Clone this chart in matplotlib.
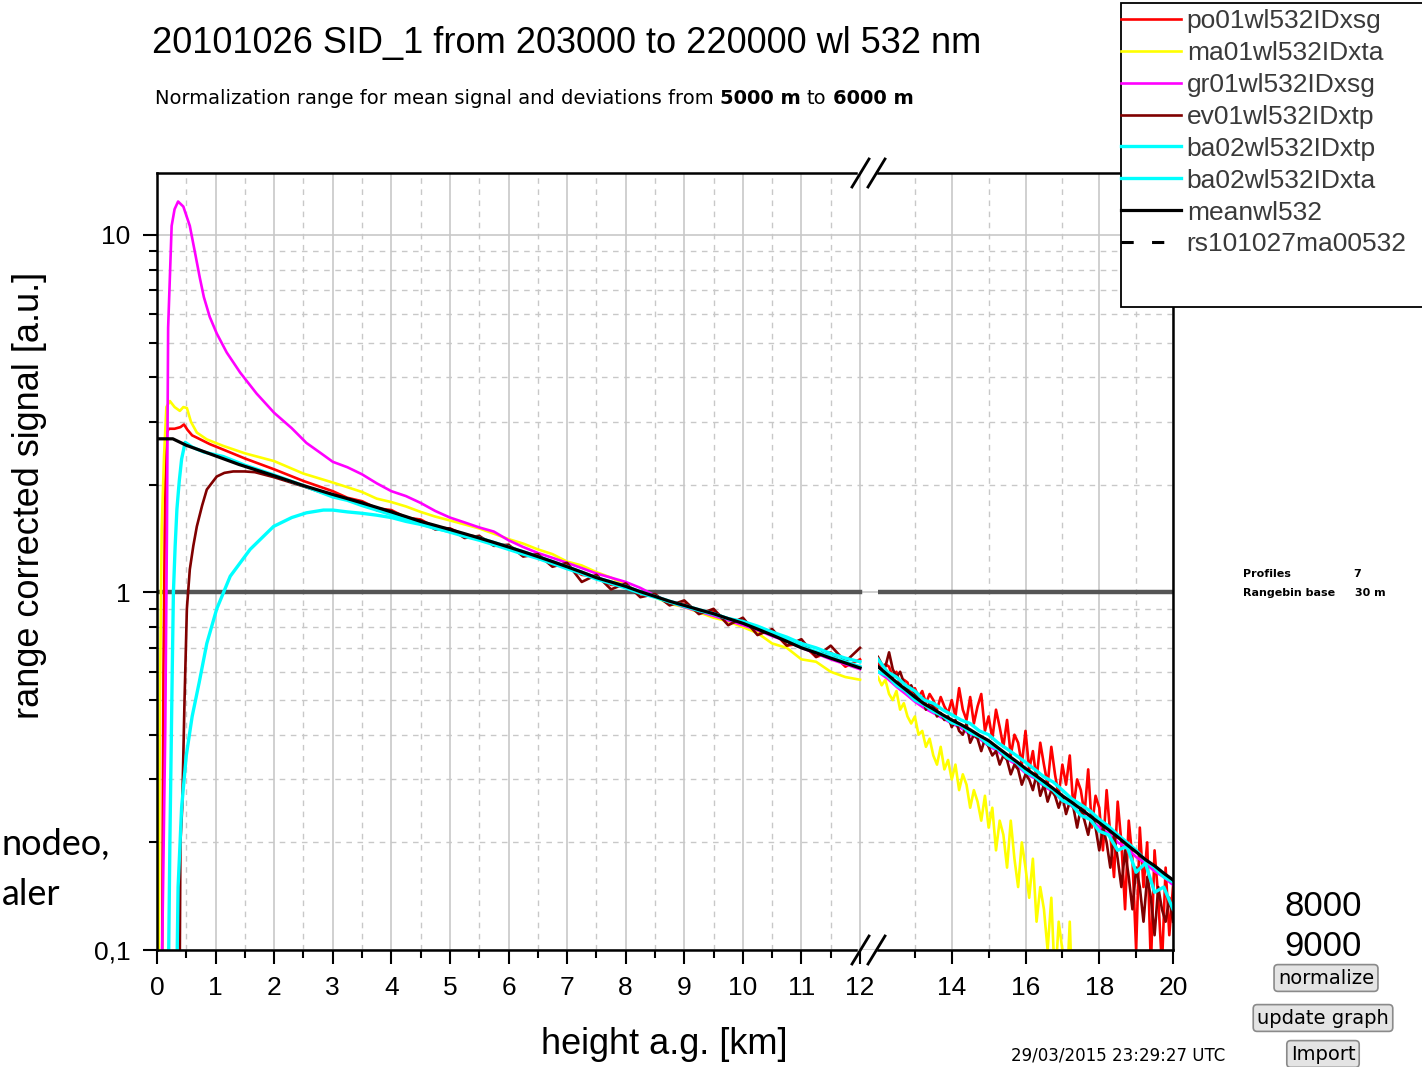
import numpy as np
import matplotlib
matplotlib.use("Agg")
import matplotlib.pyplot as plt
from matplotlib.lines import Line2D
from matplotlib.patches import Rectangle
from matplotlib.ticker import LogLocator, NullFormatter

plt.rcParams["font.family"] = ["Liberation Sans", "DejaVu Sans"]

W, H = 1422, 1067          # output size in pixels


def fx(px):
    return px / W


def fy(py):
    return 1 - py / H


# --- data (height in km, range corrected signal in a.u.) ---
LGRID = np.linspace(3.0, 12.0, 37)       # left panel sampling, 0.25 km
RGRID_F = np.linspace(12.0, 20.0, 81)    # right panel fine sampling, 0.1 km
RGRID_C = np.linspace(12.0, 20.0, 33)    # right panel coarse sampling, 0.25 km

LABELS = ["po01wl532IDxsg", "ma01wl532IDxta", "gr01wl532IDxsg", "ev01wl532IDxtp",
          "ba02wl532IDxtp", "ba02wl532IDxta", "meanwl532", "rs101027ma00532"]
COLORS = ["#ff0000", "#ffff00", "#ff00ff", "#800000", "#00ffff", "#00ffff", "#000000", "#000000"]

# po01 (red)
RED_KM0 = [0.08, 0.11, 0.14, 0.17, 0.20, 0.30, 0.40, 0.46, 0.52, 0.60, 0.68, 0.90, 1.13, 1.50, 2.00, 2.50]
RED_V0 = [0.05, 0.60, 2.00, 2.80, 2.87, 2.87, 2.90, 2.95, 2.85, 2.75, 2.71, 2.60, 2.51, 2.37, 2.21, 2.05]
RED_VL = [1.92, 1.84, 1.80, 1.72, 1.70, 1.62, 1.60, 1.52, 1.51, 1.45, 1.43, 1.37, 1.35, 1.29, 1.27, 1.20,
          1.19, 1.12, 1.11, 1.05, 1.05, 0.99, 0.98, 0.93, 0.93, 0.88, 0.89, 0.83, 0.84, 0.77, 0.78, 0.71,
          0.72, 0.66, 0.68, 0.62, 0.65]
RED_VR = [0.64, 0.61, 0.63, 0.62, 0.58, 0.60, 0.55, 0.57, 0.56, 0.52,
          0.54, 0.51, 0.53, 0.49, 0.52, 0.50, 0.47, 0.51, 0.48, 0.46,
          0.50, 0.45, 0.54, 0.47, 0.44, 0.51, 0.43, 0.48, 0.52, 0.41,
          0.45, 0.39, 0.47, 0.42, 0.37, 0.44, 0.35, 0.40, 0.38, 0.33,
          0.41, 0.32, 0.36, 0.30, 0.38, 0.33, 0.29, 0.37, 0.31, 0.27,
          0.33, 0.29, 0.35, 0.25, 0.30, 0.28, 0.24, 0.32, 0.22, 0.27,
          0.25, 0.19, 0.28, 0.21, 0.16, 0.26, 0.20, 0.13, 0.23, 0.18,
          0.10, 0.22, 0.15, 0.20, 0.09, 0.19, 0.14, 0.09, 0.17, 0.11, 0.15]

# ma01 (yellow)
YEL_KM0 = [0.02, 0.05, 0.08, 0.12, 0.16, 0.22, 0.30, 0.39, 0.45, 0.51, 0.58, 0.68, 0.85, 1.13, 1.50, 2.00, 2.50]
YEL_V0 = [0.05, 0.50, 1.50, 2.40, 3.30, 3.43, 3.30, 3.22, 3.30, 3.28, 3.00, 2.80, 2.68, 2.57, 2.45, 2.33, 2.15]
YEL_VL = [2.03, 1.97, 1.91, 1.83, 1.79, 1.74, 1.68, 1.63, 1.59, 1.55, 1.51, 1.46, 1.41, 1.37, 1.32, 1.28,
          1.22, 1.19, 1.14, 1.10, 1.05, 1.00, 0.97, 0.93, 0.91, 0.88, 0.85, 0.83, 0.80, 0.77, 0.72, 0.70,
          0.65, 0.64, 0.60, 0.58, 0.57]
YEL_VR = [0.58, 0.55, 0.57, 0.52, 0.50, 0.53, 0.47, 0.49, 0.45, 0.43,
          0.45, 0.40, 0.41, 0.37, 0.39, 0.35, 0.33, 0.37, 0.32, 0.34,
          0.30, 0.33, 0.28, 0.31, 0.29, 0.25, 0.28, 0.26, 0.23, 0.27,
          0.22, 0.25, 0.19, 0.23, 0.21, 0.17, 0.23, 0.18, 0.15, 0.20,
          0.17, 0.14, 0.18, 0.12, 0.15, 0.13, 0.10, 0.14, 0.08, 0.12,
          0.10, 0.07, 0.12, 0.06, 0.09, 0.07, 0.05, 0.08]

# gr01 (magenta)
MAG_KM0 = [0.08, 0.14, 0.17, 0.19, 0.25, 0.30, 0.36, 0.45, 0.56, 0.65, 0.73, 0.80, 0.90, 1.02, 1.19, 1.42,
           1.70, 2.00, 2.30, 2.55, 2.80]
MAG_V0 = [0.08, 0.40, 1.50, 5.50, 10.6, 11.8, 12.4, 12.0, 10.6, 8.90, 7.60, 6.70, 5.90, 5.30, 4.69, 4.12,
          3.60, 3.18, 2.88, 2.62, 2.45]
MAG_VL = [2.32, 2.24, 2.14, 2.02, 1.92, 1.86, 1.78, 1.69, 1.62, 1.57, 1.52, 1.48, 1.40, 1.34, 1.29, 1.25,
          1.21, 1.17, 1.13, 1.10, 1.07, 1.03, 0.98, 0.94, 0.91, 0.885, 0.86, 0.835, 0.81, 0.785, 0.755, 0.73,
          0.70, 0.675, 0.65, 0.63, 0.61]
MAG_VR = [0.60, 0.575, 0.545, 0.52, 0.495, 0.475, 0.46, 0.445, 0.43, 0.418, 0.40, 0.39, 0.372, 0.36, 0.342,
          0.33, 0.312, 0.302, 0.287, 0.277, 0.262, 0.253, 0.24, 0.232, 0.22, 0.212, 0.20, 0.193, 0.182, 0.175,
          0.166, 0.16, 0.152]

# ev01 (dark red)
DRK_KM0 = [0.38, 0.40, 0.43, 0.47, 0.51, 0.56, 0.62, 0.68, 0.77, 0.85, 1.02, 1.15, 1.30, 1.50, 1.67, 2.00, 2.50]
DRK_V0 = [0.05, 0.20, 0.25, 0.50, 0.90, 1.16, 1.35, 1.53, 1.75, 1.94, 2.11, 2.16, 2.18, 2.18, 2.17, 2.10, 1.98]
DRK_VL = [1.86, 1.82, 1.79, 1.70, 1.69, 1.60, 1.59, 1.50, 1.51, 1.42, 1.44, 1.35, 1.36, 1.26, 1.28, 1.18,
          1.21, 1.07, 1.12, 1.02, 1.06, 0.97, 0.99, 0.92, 0.95, 0.87, 0.90, 0.81, 0.85, 0.76, 0.79, 0.71,
          0.74, 0.66, 0.71, 0.64, 0.70]
DRK_VR = [0.66, 0.63, 0.62, 0.68, 0.61, 0.58, 0.60, 0.56, 0.53, 0.55,
          0.52, 0.50, 0.51, 0.47, 0.49, 0.48, 0.45, 0.46, 0.44, 0.45,
          0.42, 0.44, 0.41, 0.40, 0.43, 0.38, 0.40, 0.39, 0.36, 0.39,
          0.37, 0.35, 0.36, 0.33, 0.35, 0.34, 0.31, 0.33, 0.32, 0.29,
          0.31, 0.30, 0.28, 0.31, 0.27, 0.29, 0.26, 0.28, 0.27, 0.25,
          0.27, 0.24, 0.26, 0.25, 0.22, 0.25, 0.23, 0.21, 0.24, 0.22,
          0.19, 0.22, 0.20, 0.17, 0.21, 0.18, 0.15, 0.19, 0.16, 0.13,
          0.17, 0.15, 0.12, 0.16, 0.14, 0.11, 0.15, 0.13, 0.12, 0.14, 0.12]

# ba02 xtp (cyan, fast rise)
CY1_KM0 = [0.18, 0.22, 0.26, 0.28, 0.31, 0.34, 0.38, 0.42, 0.48, 0.60, 0.80, 1.13, 1.50, 2.00, 2.50]
CY1_V0 = [0.05, 0.20, 0.60, 1.00, 1.35, 1.71, 2.05, 2.36, 2.63, 2.55, 2.47, 2.40, 2.27, 2.13, 1.99]
CY1_VL = [1.85, 1.81, 1.75, 1.70, 1.65, 1.60, 1.555, 1.515, 1.475, 1.435, 1.40, 1.36, 1.32, 1.28, 1.245,
          1.205, 1.165, 1.13, 1.09, 1.06, 1.03, 0.995, 0.97, 0.94, 0.915, 0.89, 0.87, 0.845, 0.83, 0.805,
          0.775, 0.75, 0.72, 0.70, 0.675, 0.655, 0.64]
CY1_VR = [0.65, 0.60, 0.58, 0.55, 0.53, 0.50, 0.49, 0.47, 0.455, 0.44, 0.43, 0.41, 0.40, 0.38, 0.365,
          0.35, 0.335, 0.32, 0.305, 0.295, 0.28, 0.265, 0.255, 0.245, 0.232, 0.222, 0.21, 0.20, 0.19,
          0.178, 0.17, 0.16, 0.155]

# ba02 xta (cyan, slow rise)
CY2_KM0 = [0.32, 0.36, 0.42, 0.50, 0.60, 0.72, 0.85, 1.02, 1.25, 1.59, 1.99, 2.30, 2.55, 2.84]
CY2_V0 = [0.05, 0.15, 0.25, 0.35, 0.45, 0.56, 0.72, 0.90, 1.11, 1.32, 1.53, 1.62, 1.67, 1.70]
CY2_VL = [1.70, 1.68, 1.665, 1.645, 1.62, 1.58, 1.55, 1.51, 1.48, 1.45, 1.42, 1.38, 1.34, 1.30, 1.26, 1.22,
          1.18, 1.14, 1.10, 1.07, 1.04, 1.005, 0.975, 0.945, 0.92, 0.895, 0.872, 0.845, 0.825, 0.795,
          0.765, 0.735, 0.705, 0.683, 0.66, 0.64, 0.62]
CY2_VR = [0.60, 0.585, 0.55, 0.53, 0.50, 0.485, 0.465, 0.452, 0.432, 0.425, 0.405, 0.395, 0.375, 0.365,
          0.345, 0.335, 0.315, 0.305, 0.29, 0.28, 0.262, 0.255, 0.238, 0.232, 0.215, 0.21, 0.19, 0.195,
          0.165, 0.175, 0.145, 0.15, 0.13]

# mean (black)
MEAN_KM0 = [0.00, 0.27, 0.50, 0.85, 1.40, 2.00, 2.50]
MEAN_V0 = [2.69, 2.69, 2.58, 2.46, 2.28, 2.12, 1.99]
MEAN_VL = [1.88, 1.83, 1.78, 1.73, 1.68, 1.63, 1.58, 1.54, 1.50, 1.46, 1.42, 1.38, 1.34, 1.30, 1.26, 1.22,
           1.18, 1.14, 1.10, 1.07, 1.04, 1.005, 0.975, 0.945, 0.92, 0.895, 0.872, 0.845, 0.82, 0.79, 0.76,
           0.73, 0.70, 0.678, 0.655, 0.635, 0.615]
MEAN_VR = [0.62, 0.59, 0.561, 0.535, 0.51, 0.488, 0.472, 0.455, 0.44, 0.427, 0.413, 0.398, 0.385, 0.368,
           0.352, 0.337, 0.322, 0.309, 0.296, 0.283, 0.27, 0.259, 0.248, 0.237, 0.227, 0.217, 0.207,
           0.197, 0.188, 0.179, 0.172, 0.164, 0.157]

# each entry: early km, early values, left grid values, right grid, right values, line width
SERIES = [
    (RED_KM0, RED_V0, RED_VL, RGRID_F, RED_VR, 1.9),
    (YEL_KM0, YEL_V0, YEL_VL, RGRID_F[:len(YEL_VR)], YEL_VR, 1.9),
    (MAG_KM0, MAG_V0, MAG_VL, RGRID_C, MAG_VR, 1.9),
    (DRK_KM0, DRK_V0, DRK_VL, RGRID_F, DRK_VR, 1.9),
    (CY1_KM0, CY1_V0, CY1_VL, RGRID_C, CY1_VR, 2.4),
    (CY2_KM0, CY2_V0, CY2_VL, RGRID_C, CY2_VR, 2.4),
    (MEAN_KM0, MEAN_V0, MEAN_VL, RGRID_C, MEAN_VR, 2.3),
]

# --- figure ---
fig = plt.figure(figsize=(W / 100, H / 100), dpi=100)
ax1 = fig.add_axes([fx(157), fy(950), (878 - 157) / W, (950 - 173) / H])
ax2 = fig.add_axes([fx(878), fy(950), (1173 - 878) / W, (950 - 173) / H])

handles = []
for (km0, v0, vl, rgrid, vr, lw), color in zip(SERIES, COLORS):
    xs = np.concatenate([km0, LGRID])
    ys = np.concatenate([v0, vl])
    line, = ax1.plot(xs, ys, color=color, lw=lw)
    ax2.plot(rgrid, vr, color=color, lw=lw)
    handles.append(line)
handles.append(Line2D([], [], color="black", lw=2.2, ls=(0, (4, 6))))

for ax in (ax1, ax2):
    ax.set_yscale("log")
    ax.set_ylim(0.1, 14.9)
    ax.yaxis.set_minor_locator(LogLocator(base=10, subs=np.arange(2, 10)))
    ax.yaxis.set_minor_formatter(NullFormatter())
    ax.set_axisbelow(True)
    ax.grid(which="major", color="#c8c8c8", lw=1.2, ls="-")
    ax.grid(which="minor", color="#c8c8c8", lw=1.0, ls=(0, (4, 4)))
    for s in ax.spines.values():
        s.set_linewidth(1.8)
    ax.tick_params(which="major", direction="out", length=10, width=1.5, labelsize=19, pad=9)
    ax.tick_params(which="minor", direction="out", length=5.5, width=1.5)

ax1.set_xlim(0, 12.307)
ax1.set_xticks(range(13))
ax1.set_xticks(np.arange(0.5, 12, 1.0), minor=True)
ax1.set_yticks([0.1, 1, 10])
ax1.set_yticklabels(["0,1", "1", "10"])
ax1.spines["right"].set_visible(False)
ax1.spines["top"].set_bounds(0, 11.93)
ax1.spines["bottom"].set_bounds(0, 11.93)
ax1.axhline(1, xmin=0, xmax=12 / 12.307, color="#555555", lw=3.2, zorder=1.5)

ax2.set_xlim(12, 20)
ax2.set_xticks([14, 16, 18, 20])
ax2.set_xticks([13, 15, 17, 19], minor=True)
ax2.spines["left"].set_visible(False)
ax2.tick_params(axis="y", which="both", left=False, labelleft=False)
ax2.axhline(1, color="#555555", lw=3.2, zorder=1.5)

# axis break marks
for yb in (173, 950):
    for x0 in (852, 868):
        fig.add_artist(Line2D([fx(x0), fx(x0 + 17)], [fy(yb + 14), fy(yb - 14)],
                              transform=fig.transFigure, color="black", lw=2))

# texts
fig.text(fx(152), fy(44), "20101026 SID_1 from 203000 to 220000 wl 532 nm", fontsize=26,
         ha="left", va="center")
sub = fig.text(fx(155), fy(98), "Normalization range for mean signal and deviations from",
               fontsize=14, family="DejaVu Sans", ha="left", va="center")
prev = sub
for part, bold in (("5000 m", True), ("to", False), ("6000 m", True)):
    prev = ax1.annotate(part, xy=(1, 0.5), xycoords=prev, xytext=(4.5, 0), textcoords="offset points",
                        fontsize=14, family="DejaVu Sans", fontweight="bold" if bold else "normal",
                        ha="left", va="center")
fig.text(fx(30), fy(495), "range corrected signal [a.u.]", fontsize=26, rotation=90,
         ha="center", va="center")
fig.text(fx(664), fy(1045), "height a.g. [km]", fontsize=26, ha="center", va="center")

fig.text(fx(1243), fy(574), "Profiles", fontsize=8, family="DejaVu Sans", fontweight="bold", va="center")
fig.text(fx(1353), fy(574), "7", fontsize=8, family="DejaVu Sans", fontweight="bold", va="center")
fig.text(fx(1243), fy(593), "Rangebin base", fontsize=8, family="DejaVu Sans", fontweight="bold", va="center")
fig.text(fx(1355), fy(593), "30 m", fontsize=8, family="DejaVu Sans", fontweight="bold", va="center")

fig.text(fx(1323), fy(907), "8000", fontsize=25, ha="center", va="center")
fig.text(fx(1323), fy(947), "9000", fontsize=25, ha="center", va="center")
button = dict(boxstyle="round,pad=0.2", fc="#e4e4e4", ec="#8a8a8a", lw=1.2)
fig.text(fx(1326), fy(978), "normalize", fontsize=14, family="DejaVu Sans", ha="center", va="center",
         bbox=button)
fig.text(fx(1323), fy(1018), "update graph", fontsize=14, family="DejaVu Sans", ha="center",
         va="center", bbox=button)
fig.text(fx(1323), fy(1054), "Import", fontsize=14, family="DejaVu Sans", ha="center", va="center",
         bbox=button)
fig.text(fx(1118), fy(1055), "29/03/2015 23:29:27 UTC", fontsize=12, family="DejaVu Sans",
         ha="center", va="center")

# slide text partly covered in the screenshot
fig.text(fx(2), fy(855), "nodeo,", fontsize=26, family="Lato", ha="left", va="baseline")
fig.text(fx(2), fy(905), "aler", fontsize=26, family="Lato", ha="left", va="baseline")

# legend box (runs off the right edge)
fig.add_artist(Rectangle((fx(1121), fy(307)), 0.3, (307 - 3) / H, transform=fig.transFigure,
                         fc="white", ec="black", lw=1.3, zorder=4))
fig.legend(handles, LABELS, loc="upper left", bbox_to_anchor=(fx(1121), fy(9)),
           bbox_transform=fig.transFigure, frameon=False, fontsize=19, handlelength=2.27,
           handletextpad=0.22, labelspacing=0.30, borderpad=0, borderaxespad=0,
           labelcolor="#3a3a3a")

fig.savefig("out.png", dpi=100)
